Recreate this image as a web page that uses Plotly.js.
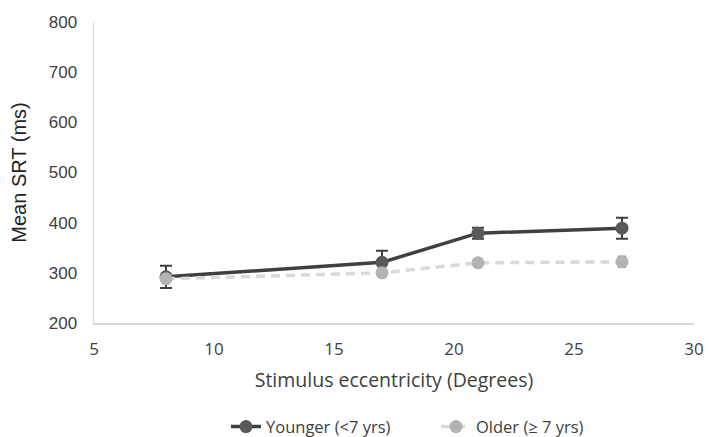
<!DOCTYPE html>
<html>
<head>
<meta charset="utf-8">
<script src="https://cdn.plot.ly/plotly-3.0.1.min.js"></script>
<style>html,body{margin:0;padding:0;background:#fff;}#chart{width:709px;height:437px;}</style>
</head>
<body>
<div id="chart"></div>
<script>
const eccentricity = [8, 17, 21, 27];
const youngerSRT = [292, 321, 379, 389];
const youngerErr = [22, 23, 11, 21];
const olderSRT = [288, 300, 320, 322];
const olderErr = [5, 5, 5, 10];
const seriesNames = ["Younger (<7 yrs)", "Older (≥ 7 yrs)"];

const traces = [
  {
    x: eccentricity, y: youngerSRT, name: seriesNames[0], type: 'scatter', mode: 'lines+markers',
    line: {color: '#404040', width: 3.5},
    marker: {color: '#595959', size: 13},
    error_y: {type: 'data', array: youngerErr, visible: true, color: '#404040', thickness: 2, width: 6}
  },
  {
    x: eccentricity, y: olderSRT, name: seriesNames[1], type: 'scatter', mode: 'lines+markers',
    line: {color: '#d9d9d9', width: 3.5, dash: '9px,6px'},
    marker: {color: '#b3b3b3', size: 13},
    error_y: {type: 'data', array: olderErr, visible: true, color: '#595959', thickness: 2, width: 4}
  }
];

const layout = {
  width: 709, height: 437,
  margin: {l: 94, r: 15, t: 22, b: 114, autoexpand: false},
  paper_bgcolor: '#fff', plot_bgcolor: '#fff',
  xaxis: {
    range: [5, 30], dtick: 5, tick0: 5, showgrid: false, zeroline: false, automargin: false,
    showline: true, linecolor: '#d9d9d9', linewidth: 1.5, ticks: '', ticklabelstandoff: 10,
    tickfont: {family: 'Open Sans, sans-serif', size: 17, color: '#404040'},
    title: {text: 'Stimulus eccentricity (Degrees)', font: {family: 'Open Sans, sans-serif', size: 19.5, color: '#404040'}, standoff: 14}
  },
  yaxis: {
    range: [200, 800], dtick: 100, showgrid: false, zeroline: false, automargin: false,
    showline: true, linecolor: '#d9d9d9', linewidth: 1.5, ticks: '', ticklabelstandoff: 12,
    tickfont: {family: 'Liberation Sans, Arial, sans-serif', size: 17, color: '#404040'},
    title: {text: 'Mean SRT (ms)', font: {family: 'Liberation Sans, Arial, sans-serif', size: 20, color: '#222'}, standoff: 16}
  },
  legend: {
    orientation: 'h', x: 0.57, xanchor: 'center', y: -0.345, yanchor: 'middle',
    font: {family: 'Open Sans, sans-serif', size: 16.5, color: '#404040'},
    traceorder: 'normal', entrywidth: 165, entrywidthmode: 'pixels'
  },
  showlegend: true
};

Plotly.newPlot('chart', traces, layout, {displayModeBar: false, staticPlot: true});
</script>
</body>
</html>
